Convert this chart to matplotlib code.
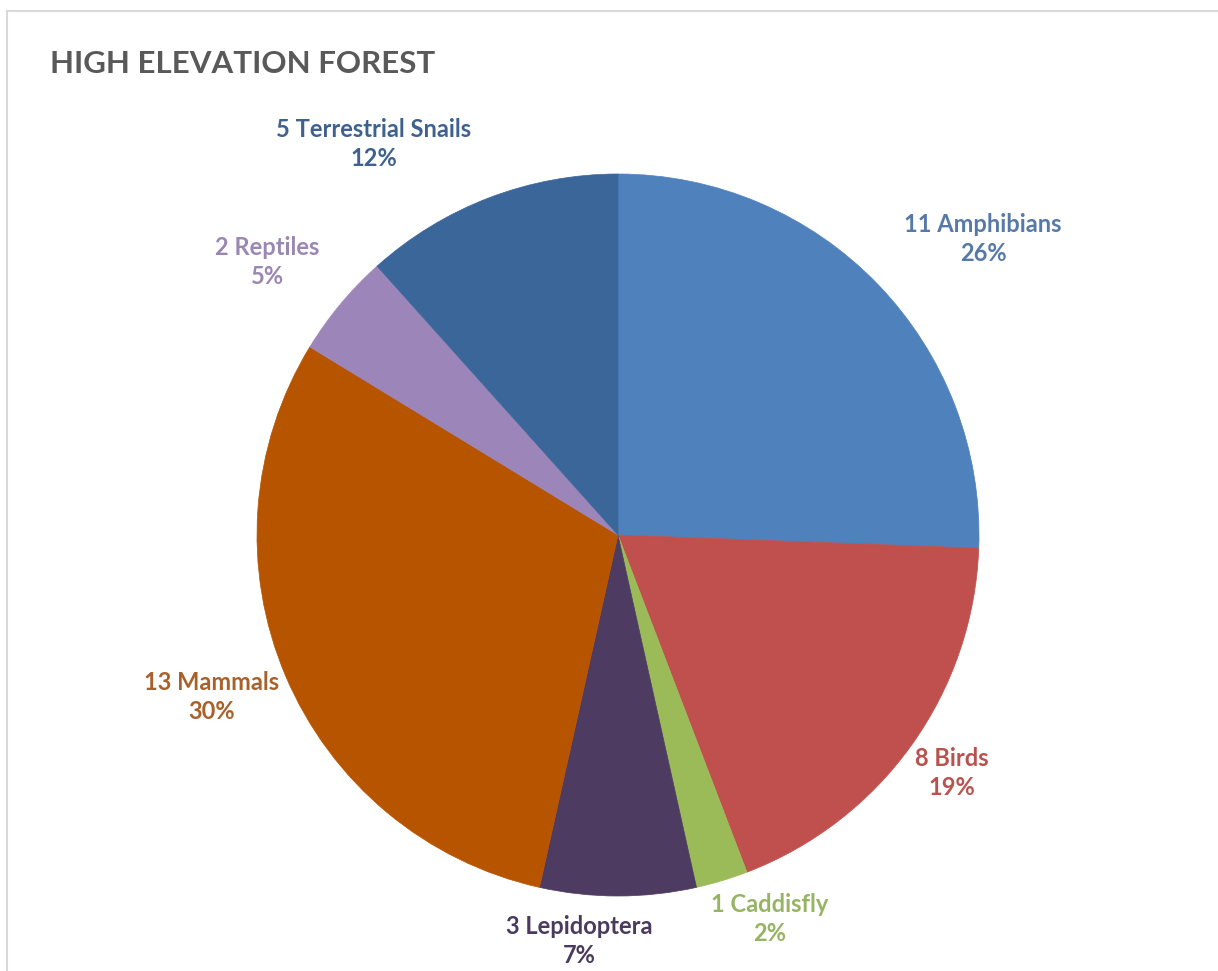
import matplotlib.pyplot as plt
from matplotlib.lines import Line2D

# Species counts in high elevation forest
categories = ['Amphibians', 'Birds', 'Caddisfly', 'Lepidoptera',
              'Mammals', 'Reptiles', 'Terrestrial Snails']
counts = [11, 8, 1, 3, 13, 2, 5]

colors = ['#4F81BD', '#C0504D', '#9BBB59', '#4E3B62',
          '#B65400', '#9C85B9', '#3A6699']
label_colors = ['#5679A8', '#B9524F', '#97B463', '#4A3A5E',
                '#A9612B', '#9A88B3', '#3F6190']

# label centres in pixel coords (layout only)
label_pos = [(983, 239), (952, 773), (770, 919), (579, 941),
             (212, 697), (267, 262), (374, 144)]

W, H = 1218, 971
fig = plt.figure(figsize=(W / 100, H / 100), dpi=100)
ax = fig.add_axes([0, 0, 1, 1])

total = sum(counts)
labels = [f'{c} {n}\n{round(100 * c / total)}%' for n, c in zip(categories, counts)]

wedges, texts = ax.pie(counts, colors=colors, labels=labels, startangle=90,
                       counterclock=False, center=(618, H - 535), radius=361,
                       frame=True, wedgeprops=dict(linewidth=0.5))
for w, col in zip(wedges, colors):
    w.set_edgecolor(col)
ax.set_xlim(0, W)
ax.set_ylim(0, H)
ax.set_aspect('equal')
ax.axis('off')

for t, col, (px, py) in zip(texts, label_colors, label_pos):
    t.set_position((px, H - py))
    t.set_ha('center')
    t.set_va('center')
    t.set_color(col)
    t.set_fontsize(17)
    t.set_fontweight('bold')
    t.set_family('Lato')
    t.set_linespacing(1.3)

ax.text(50, H - 64, 'HIGH ELEVATION FOREST', fontsize=22.5, fontweight='bold',
        family='Lato', color='#595959', ha='left', va='center')

# chart frame
ax.add_line(Line2D([7, 7], [0, H - 11], color='#D9D9D9', lw=1.5))
ax.add_line(Line2D([7, W], [H - 11, H - 11], color='#D9D9D9', lw=1.5))

plt.savefig('out.png', dpi=100)
